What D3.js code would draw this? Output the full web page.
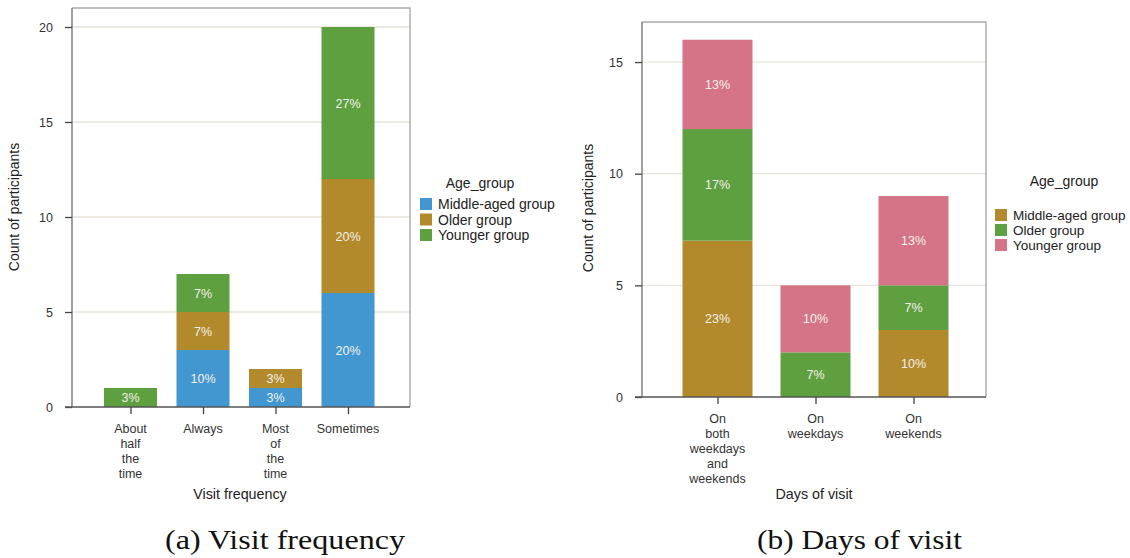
<!DOCTYPE html>
<html>
<head>
<meta charset="utf-8">
<script src="https://cdn.jsdelivr.net/npm/d3@7"></script>
<style>
  html, body { margin: 0; padding: 0; background: #fff; }
  svg { display: block; }
  .tick text { font-family: Arial, "Liberation Sans", sans-serif; }
</style>
</head>
<body>
<svg id="chart" width="1130" height="558"></svg>
<script>
// ---- Panel (a): visit frequency ----
const freqCategories = ["About half the time", "Always", "Most of the time", "Sometimes"];
const freqLabelLines = [["About", "half", "the", "time"], ["Always"], ["Most", "of", "the", "time"], ["Sometimes"]];
const freqGroups = ["Middle-aged group", "Older group", "Younger group"];
const freqMiddle = [0, 3, 1, 6];
const freqOlder = [0, 2, 1, 6];
const freqYounger = [1, 2, 0, 8];
const freqTicks = [0, 5, 10, 15, 20];

// ---- Panel (b): days of visit ----
const dayCategories = ["On both weekdays and weekends", "On weekdays", "On weekends"];
const dayLabelLines = [["On", "both", "weekdays", "and", "weekends"], ["On", "weekdays"], ["On", "weekends"]];
const dayGroups = ["Middle-aged group", "Older group", "Younger group"];
const dayMiddle = [7, 0, 3];
const dayOlder = [5, 2, 2];
const dayYounger = [4, 3, 4];
const dayTicks = [0, 5, 10, 15];

const totalParticipants = 30;

const svg = d3.select("#chart");
const FONT = "Arial, 'Liberation Sans', sans-serif";

function drawPanel(cfg) {
  const g = svg.append("g");
  const rows = cfg.categories.map((c, i) => {
    const r = { cat: c };
    cfg.groups.forEach((k, j) => r[k] = cfg.series[j][i]);
    return r;
  });
  const stacked = d3.stack().keys(cfg.groups)(rows);

  const x = d3.scalePoint().domain(cfg.categories).range([cfg.xFirst, cfg.xLast]);
  const y = d3.scaleLinear().domain([0, cfg.yMax]).range([cfg.bottom, cfg.bottom - cfg.yMax * cfg.pxPerUnit]);

  // gridlines
  g.append("g").selectAll("line").data(cfg.ticks.filter(t => t > 0)).join("line")
    .attr("x1", cfg.left).attr("x2", cfg.right)
    .attr("y1", d => y(d)).attr("y2", d => y(d))
    .attr("stroke", "#e6e3da").attr("stroke-width", 1.3);

  // frame (top and right)
  g.append("path")
    .attr("d", `M${cfg.left},${cfg.top}H${cfg.right}V${cfg.bottom}`)
    .attr("fill", "none").attr("stroke", "#aaaaaa").attr("stroke-width", 1.4);

  // bars
  const color = d3.scaleOrdinal().domain(cfg.groups).range(cfg.colors);
  const layers = g.append("g").selectAll("g").data(stacked).join("g")
    .attr("fill", d => color(d.key));
  layers.selectAll("rect").data(d => d.filter(p => p[1] - p[0] > 0)).join("rect")
    .attr("x", d => x(d.data.cat) - cfg.barWidth / 2)
    .attr("width", cfg.barWidth)
    .attr("y", d => y(d[1]))
    .attr("height", d => y(d[0]) - y(d[1]));

  // percentage labels
  stacked.forEach(layer => {
    layer.filter(p => p[1] - p[0] > 0).forEach(p => {
      const v = p[1] - p[0];
      g.append("text")
        .attr("x", x(p.data.cat))
        .attr("y", y((p[0] + p[1]) / 2))
        .attr("dy", "0.36em")
        .attr("text-anchor", "middle")
        .attr("font-family", FONT).attr("font-size", 12.5)
        .attr("fill", "#f4f1ea")
        .text(Math.round(v / totalParticipants * 100) + "%");
    });
  });

  // y axis
  const yAxis = g.append("g").attr("transform", `translate(${cfg.left},0)`)
    .call(d3.axisLeft(y).tickValues(cfg.ticks).tickSize(7).tickPadding(12));
  yAxis.select(".domain").attr("stroke", "#777").attr("stroke-width", 1.4)
    .attr("d", `M0,${cfg.top}V${cfg.bottom}`);
  yAxis.selectAll(".tick line").attr("stroke", "#444").attr("stroke-width", 1.3);
  yAxis.selectAll(".tick text").attr("font-size", 12.5).attr("fill", "#333");

  // x axis
  const xAxis = g.append("g").attr("transform", `translate(0,${cfg.bottom})`)
    .call(d3.axisBottom(x).tickSize(7).tickFormat(""));
  xAxis.select(".domain").attr("stroke", "#555").attr("stroke-width", 1.4)
    .attr("d", `M${cfg.left - 7},0H${cfg.right}`);
  xAxis.selectAll(".tick line").attr("stroke", "#444").attr("stroke-width", 1.3);

  cfg.labelLines.forEach((lines, i) => {
    const t = g.append("text")
      .attr("x", x(cfg.categories[i]))
      .attr("y", cfg.bottom + 26)
      .attr("text-anchor", "middle")
      .attr("font-family", FONT).attr("font-size", 12.5).attr("fill", "#333");
    lines.forEach((ln, k) => t.append("tspan")
      .attr("x", x(cfg.categories[i])).attr("dy", k === 0 ? 0 : 15).text(ln));
  });

  // axis titles
  g.append("text")
    .attr("transform", `translate(${cfg.yTitleX},${cfg.yTitleY}) rotate(-90)`)
    .attr("text-anchor", "middle")
    .attr("font-family", FONT).attr("font-size", 14).attr("fill", "#222")
    .text("Count of participants");
  g.append("text")
    .attr("x", cfg.xTitleX).attr("y", cfg.xTitleY)
    .attr("text-anchor", "middle")
    .attr("font-family", FONT).attr("font-size", 14.3).attr("fill", "#222")
    .text(cfg.xTitle);

  // legend
  const lg = g.append("g");
  lg.append("text")
    .attr("x", cfg.legendTitleX).attr("y", cfg.legendTitleY)
    .attr("text-anchor", "middle")
    .attr("font-family", FONT).attr("font-size", 14).attr("fill", "#222")
    .text("Age_group");
  cfg.groups.forEach((k, i) => {
    const yy = cfg.legendY + i * cfg.legendStep;
    lg.append("rect")
      .attr("x", cfg.legendX).attr("y", yy)
      .attr("width", 12).attr("height", 12)
      .attr("fill", color(k));
    lg.append("text")
      .attr("x", cfg.legendX + 18).attr("y", yy + 6)
      .attr("dy", "0.36em")
      .attr("font-family", FONT).attr("font-size", cfg.legendFont).attr("fill", "#222")
      .text(k);
  });

  // caption
  svg.append("text")
    .attr("x", cfg.captionX).attr("y", 549)
    .attr("text-anchor", "middle")
    .attr("font-family", "'Liberation Serif', 'DejaVu Serif', serif")
    .attr("font-size", 28).attr("fill", "#111")
    .attr("textLength", cfg.captionWidth).attr("lengthAdjust", "spacingAndGlyphs")
    .text(cfg.caption);
}

drawPanel({
  categories: freqCategories,
  labelLines: freqLabelLines,
  groups: freqGroups,
  series: [freqMiddle, freqOlder, freqYounger],
  colors: ["#4397d1", "#b28a2c", "#5ea040"],
  ticks: freqTicks,
  yMax: 20,
  left: 72, right: 410, top: 8, bottom: 407,
  pxPerUnit: 19,
  xFirst: 130.5, xLast: 348, barWidth: 53,
  yTitleX: 19, yTitleY: 207,
  xTitleX: 240, xTitleY: 499, xTitle: "Visit frequency",
  legendTitleX: 480, legendTitleY: 188,
  legendX: 420, legendY: 198, legendStep: 15.5, legendFont: 14,
  captionX: 285, captionWidth: 240, caption: "(a) Visit frequency"
});

drawPanel({
  categories: dayCategories,
  labelLines: dayLabelLines,
  groups: dayGroups,
  series: [dayMiddle, dayOlder, dayYounger],
  colors: ["#b28a2c", "#5ea040", "#d57387"],
  ticks: dayTicks,
  yMax: 16,
  left: 642, right: 986, top: 22, bottom: 397,
  pxPerUnit: 22.33,
  xFirst: 717.5, xLast: 913.5, barWidth: 70,
  yTitleX: 593, yTitleY: 208,
  xTitleX: 814, xTitleY: 499, xTitle: "Days of visit",
  legendTitleX: 1064, legendTitleY: 186,
  legendX: 995, legendY: 209, legendStep: 15, legendFont: 13.5,
  captionX: 859.5, captionWidth: 205, caption: "(b) Days of visit"
});
</script>
</body>
</html>
